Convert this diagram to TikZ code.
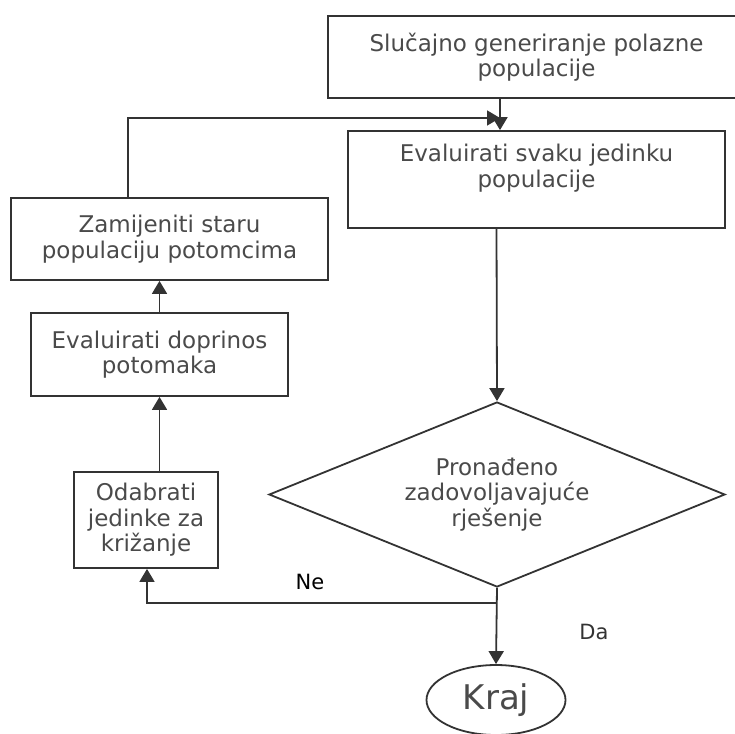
\documentclass[tikz,border=0pt]{standalone}
\usepackage{fontspec}
\setmainfont{DejaVu Sans}
\usepackage{color}
\usetikzlibrary{positioning}
\usetikzlibrary{shapes,shapes.geometric,arrows,arrows.meta}
\definecolor{linegray}{HTML}{333333}
\definecolor{textgray}{HTML}{4A4A4A}
\newcommand{\boxfont}{\fontsize{23}{25.5}\selectfont}

\begin{document}
\begin{tikzpicture}[x=1pt,y=-1pt]
\tikzstyle{block}=[rectangle, draw=linegray, line width=1.8pt, text=textgray, align=center, font=\boxfont, inner sep=0pt]
\tikzstyle{decision}=[diamond, draw=linegray, line width=1.8pt, text=textgray, align=center, font=\boxfont, inner sep=0pt, aspect=2.46, minimum width=456pt, minimum height=185pt]
\tikzstyle{terminal}=[ellipse, draw=linegray, line width=1.8pt, text=textgray, font=\fontsize{34}{38}\selectfont, minimum width=139pt, minimum height=70pt, inner sep=0pt]
\tikzstyle{connect}=[-{Triangle[length=13pt,width=15pt]}, draw=linegray, line width=1.8pt]
\tikzstyle{answer}=[font=\fontsize{21}{24}\selectfont, inner sep=0pt]
\useasboundingbox (0,0) rectangle (735,733);
	\node[block, minimum width=417pt, minimum height=82pt] (init) at (536.5,57) {Slučajno generiranje polazne\\populacije};
	\node[block, minimum width=377pt, minimum height=97pt] (eval) at (536.5,179.5) {};
	\node[text=textgray, align=center, font=\boxfont, anchor=north, inner sep=0pt] (evaltext) at (536.5,144) {Evaluirati svaku jedinku\\populacije};
	\node[block, minimum width=317pt, minimum height=82pt] (zam) at (169.5,239) {Zamijeniti staru\\populaciju potomcima};
	\node[block, minimum width=257pt, minimum height=83pt] (dop) at (159.5,354.5) {Evaluirati doprinos\\potomaka};
	\node[block, minimum width=144pt, minimum height=96pt] (odab) at (146,520) {Odabrati\\jedinke za\\križanje};
	\node[decision] (dec) at (497,494.5) {Pronađeno\\zadovoljavajuće\\rješenje};
	\node[terminal] (kraj) at (496,700) {Kraj};

	\node[answer, text=black] (ne) at (310,582) {Ne};
	\node[answer, text=linegray] (da) at (594,632) {Da};

	\coordinate (merge) at (500,118);
	\coordinate (split) at (497,603);

	\draw[connect] ([xshift=-36.5pt]init.south) -- ([xshift=-36.5pt]eval.north);
	\draw[connect] ([xshift=-41.5pt]zam.north) |- (merge);
	\draw[connect] ([xshift=-40pt]eval.south) -- (dec.north);
	\draw[connect] (dop.north) -- (dop.north |- zam.south);
	\draw[connect] (odab.north -| dop.north) -- (dop.south);
	\draw[connect] (dec.south) -- (kraj.north);
	\draw[connect] (split) -| ([xshift=1pt]odab.south);
\end{tikzpicture}
\end{document}
